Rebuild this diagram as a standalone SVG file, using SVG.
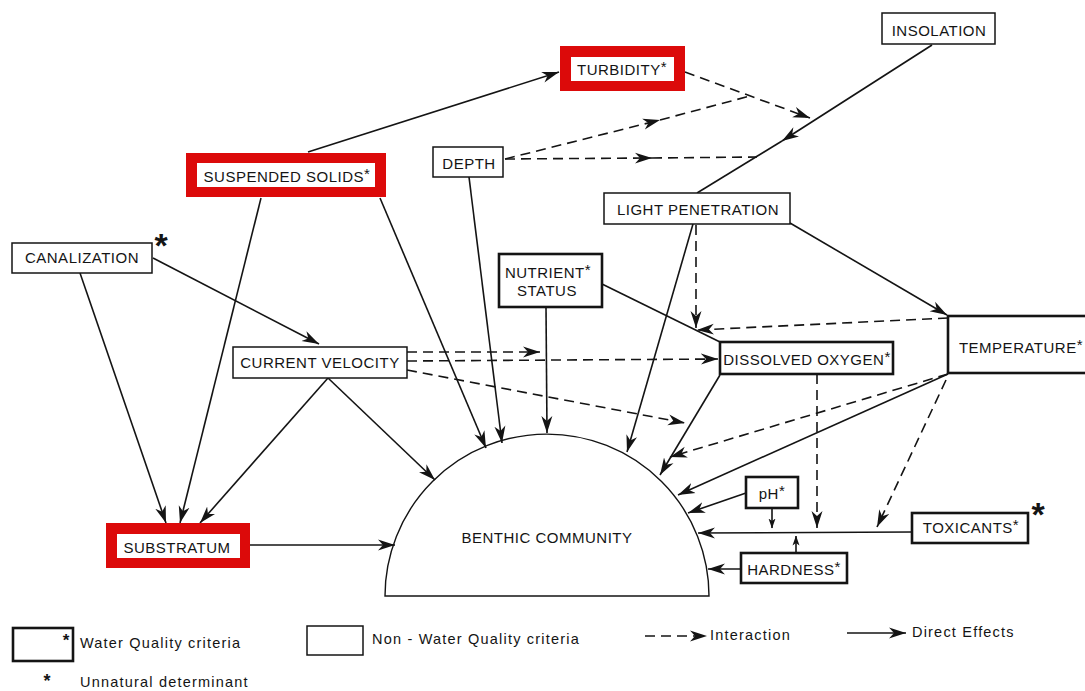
<svg xmlns="http://www.w3.org/2000/svg" width="1085" height="691" viewBox="0 0 1085 691">
<style>
.lbl{font-family:"Liberation Sans",Arial,sans-serif;font-size:15px;letter-spacing:0.5px;fill:#141414;text-anchor:middle}
.sup{font-size:15px}
.leg{font-family:"Liberation Sans",Arial,sans-serif;font-size:14.5px;letter-spacing:1.2px;fill:#141414}
.star{font-family:"Liberation Sans",Arial,sans-serif;font-weight:bold;fill:#141414;text-anchor:middle}
.thin{fill:#fff;stroke:#141414;stroke-width:1.5}
.thick{fill:#fff;stroke:#141414;stroke-width:2.6}
.red{fill:#dc0a0a}
.inner{fill:#fff}
.ln{fill:none;stroke:#141414;stroke-width:1.6}
.d{stroke-dasharray:10 6}
</style>
<defs>
<marker id="ah" viewBox="0 0 18 12" markerWidth="18" markerHeight="12" refX="17" refY="6" orient="auto" markerUnits="userSpaceOnUse">
<path d="M0,0.5 L17,6 L0,11.5 L5,6 Z" fill="#141414" stroke="none"/>
</marker>
<marker id="ahs" viewBox="0 0 10 8" markerWidth="10" markerHeight="8" refX="9.5" refY="4" orient="auto" markerUnits="userSpaceOnUse">
<path d="M0,0.5 L10,4 L0,7.5 L2.5,4 Z" fill="#141414" stroke="none"/>
</marker>
</defs>
<rect width="1085" height="691" fill="#fff"/>

<g id="benthic-community">
<path d="M385,596 A162,162 0 0 1 709,596 Z" fill="#fff" stroke="#141414" stroke-width="1.4"/>
<text class="lbl" x="547" y="543">BENTHIC COMMUNITY</text>
</g>

<g id="connectors">
<g class="ln" marker-end="url(#ah)">
<line x1="308" y1="152" x2="559" y2="72"/>
<line x1="261" y1="198" x2="180" y2="523"/>
<line x1="380" y1="198" x2="486" y2="448"/>
<line x1="80" y1="273" x2="166" y2="523"/>
<line x1="153" y1="258" x2="319" y2="344"/>
<line x1="328" y1="378" x2="200" y2="523"/>
<line x1="328" y1="378" x2="435" y2="480"/>
<line x1="469" y1="177" x2="502" y2="443"/>
<line x1="546" y1="307" x2="547" y2="433"/>
<line x1="693" y1="224" x2="627" y2="452"/>
<line x1="790" y1="223" x2="947" y2="315"/>
<line x1="932" y1="45" x2="782" y2="141"/>
<line x1="720" y1="375" x2="660" y2="475"/>
<line x1="948" y1="374" x2="678" y2="495"/>
<line x1="746" y1="493" x2="688" y2="513"/>
<line x1="912" y1="532" x2="698" y2="533"/>
<line x1="741" y1="569" x2="708" y2="569"/>
<line x1="250" y1="545" x2="395" y2="545"/>
</g>
<g class="ln" marker-end="url(#ahs)">
<line x1="772" y1="508" x2="772" y2="528"/>
<line x1="796" y1="553" x2="796" y2="536"/>
</g>
<g class="ln">
<line x1="782" y1="141" x2="697" y2="193"/>
<line x1="602" y1="284" x2="720" y2="342"/>
</g>
<g class="ln d" marker-end="url(#ah)">
<line x1="685" y1="72" x2="810" y2="118"/>
<line x1="505" y1="159" x2="660" y2="120"/>
<line x1="505" y1="159" x2="652" y2="158"/>
<line x1="407" y1="352" x2="540" y2="352"/>
<line x1="407" y1="361" x2="718" y2="359"/>
<line x1="407" y1="370" x2="685" y2="423"/>
<line x1="696" y1="225" x2="696" y2="328"/>
<line x1="948" y1="318" x2="697" y2="330"/>
<line x1="817" y1="374" x2="817" y2="528"/>
<line x1="948" y1="374" x2="670" y2="457"/>
<line x1="946" y1="380" x2="877" y2="527"/>
</g>
<g class="ln d">
<line x1="660" y1="120" x2="750" y2="96"/>
<line x1="652" y1="158" x2="757" y2="157"/>
</g>
</g>

<g id="turbidity">
<rect class="red" x="560" y="46" width="125" height="45"/>
<rect class="inner" x="571" y="57" width="103" height="24"/>
<text class="lbl" x="622" y="75">TURBIDITY<tspan class="sup" dy="-3">*</tspan></text>
</g>
<g id="suspended-solids">
<rect class="red" x="186" y="153" width="200" height="44"/>
<rect class="inner" x="197" y="163" width="178" height="24"/>
<text class="lbl" x="287" y="182">SUSPENDED SOLIDS<tspan class="sup" dy="-3">*</tspan></text>
</g>
<g id="substratum">
<rect class="red" x="106" y="523" width="144" height="45"/>
<rect class="inner" x="117" y="534" width="123" height="24"/>
<text class="lbl" x="177" y="553">SUBSTRATUM</text>
</g>
<g id="canalization">
<rect class="thin" x="12" y="243" width="140" height="30"/>
<text class="lbl" x="82" y="263">CANALIZATION</text>
<text class="star" x="161" y="257" font-size="34">*</text>
</g>
<g id="depth">
<rect class="thin" x="433" y="147" width="70" height="30"/>
<text class="lbl" x="469" y="169">DEPTH</text>
</g>
<g id="light-penetration">
<rect class="thin" x="604" y="193" width="186" height="31"/>
<text class="lbl" x="698" y="215">LIGHT PENETRATION</text>
</g>
<g id="insolation">
<rect class="thin" x="882" y="13" width="113" height="31"/>
<text class="lbl" x="939" y="36">INSOLATION</text>
</g>
<g id="temperature">
<rect class="thick" x="948" y="316" width="144" height="57"/>
<text class="lbl" x="1021" y="353">TEMPERATURE<tspan class="sup" dy="-3">*</tspan></text>
</g>
<g id="nutrient-status">
<rect class="thick" x="499" y="254" width="103" height="53"/>
<text class="lbl" x="548" y="278">NUTRIENT<tspan class="sup" dy="-3">*</tspan></text>
<text class="lbl" x="547" y="296">STATUS</text>
</g>
<g id="current-velocity">
<rect class="thin" x="233" y="347" width="174" height="31"/>
<text class="lbl" x="320" y="368">CURRENT VELOCITY</text>
</g>
<g id="dissolved-oxygen">
<rect class="thick" x="720" y="342" width="173" height="32"/>
<text class="lbl" x="807" y="365">DISSOLVED OXYGEN<tspan class="sup" dy="-3">*</tspan></text>
</g>
<g id="ph">
<rect class="thick" x="746" y="477" width="52" height="31"/>
<text class="lbl" x="772" y="499">pH<tspan class="sup" dy="-3">*</tspan></text>
</g>
<g id="toxicants">
<rect class="thick" x="912" y="513" width="116" height="30"/>
<text class="lbl" x="971" y="533">TOXICANTS<tspan class="sup" dy="-3">*</tspan></text>
<text class="star" x="1038" y="526" font-size="34">*</text>
</g>
<g id="hardness">
<rect class="thick" x="741" y="553" width="106" height="30"/>
<text class="lbl" x="794" y="575">HARDNESS<tspan class="sup" dy="-3">*</tspan></text>
</g>

<g id="legend">
<rect class="thick" x="13" y="628" width="60" height="33"/>
<text class="star" x="66" y="646" font-size="17" font-weight="normal">*</text>
<text class="leg" x="80" y="648">Water Quality criteria</text>
<rect class="thin" x="307" y="626" width="56" height="29"/>
<text class="leg" x="372" y="644">Non - Water Quality criteria</text>
<line class="ln d" x1="645" y1="636" x2="707" y2="636" stroke-dasharray="8 5" marker-end="url(#ah)"/>
<text class="leg" x="710" y="640" letter-spacing="0.6">Interaction</text>
<line class="ln" x1="847" y1="633" x2="906" y2="633" marker-end="url(#ah)"/>
<text class="leg" x="912" y="637" letter-spacing="1.5">Direct Effects</text>
<text class="star" x="47" y="687" font-size="18" font-weight="normal">*</text>
<text class="leg" x="80" y="687">Unnatural determinant</text>
</g>
</svg>
